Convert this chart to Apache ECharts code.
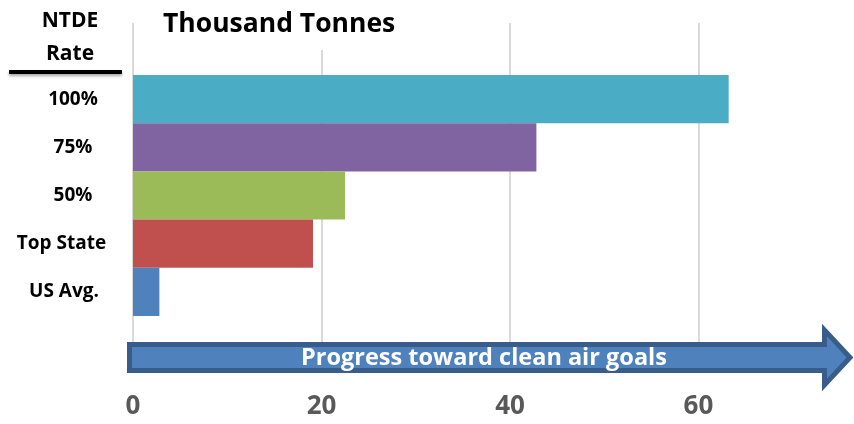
<!DOCTYPE html>
<html>
<head>
<meta charset="utf-8">
<script src="https://cdn.jsdelivr.net/npm/echarts@6/dist/echarts.min.js"></script>
<style>
  html, body { margin: 0; padding: 0; background: #fff; }
  #chart { width: 854px; height: 424px; }
</style>
</head>
<body>
<div id="chart"></div>
<script>
// NTDE rate scenarios, thousand tonnes
const categories = ['100%', '75%', '50%', 'Top State', 'US Avg.'];
const values = [63.2, 42.8, 22.5, 19.1, 2.8];
const barColors = ['#4BACC6', '#8064A2', '#9BBB59', '#C0504D', '#4F81BD'];
const axisMin = 0;
const axisMax = 76.5;
const tickStep = 20;

const FONT = '"Open Sans", "DejaVu Sans", sans-serif';

// horizontal shift for labels whose text box sits left of the common column
const labelShift = { 'Top State': 23, 'US Avg.': 18 };

const chart = echarts.init(document.getElementById('chart'), null, { renderer: 'canvas' });

const plotLeft = 133;
const plotWidth = 721;

const option = {
  animation: false,
  backgroundColor: '#fff',
  title: [
    {
      text: 'Thousand Tonnes',
      left: 157,
      top: 0,
      padding: [11, 6, 12, 6],
      backgroundColor: '#fff',
      textStyle: { fontFamily: FONT, fontWeight: 'bold', fontSize: 26.5, color: '#000' },
      z: 10
    },
    {
      text: 'NTDE\nRate',
      left: 65,
      textAlign: 'center',
      top: 0,
      textStyle: { fontFamily: FONT, fontWeight: 'bold', fontSize: 21, lineHeight: 33, color: '#000' }
    }
  ],
  grid: [
    // frame for the value gridlines and tick labels
    { left: plotLeft, top: 23, width: plotWidth, height: 319 },
    // band holding the bars
    { left: plotLeft, top: 75, width: plotWidth, height: 241 }
  ],
  xAxis: [
    {
      gridIndex: 0,
      type: 'value',
      min: axisMin,
      max: axisMax,
      interval: tickStep,
      axisLine: { show: false },
      axisTick: { show: false },
      splitLine: { show: true, showMaxLine: false, lineStyle: { color: '#d9d9d9', width: 2 } },
      axisLabel: {
        margin: 52,
        showMaxLabel: false,
        fontFamily: FONT,
        fontWeight: 'bold',
        fontSize: 26,
        color: '#595959'
      }
    },
    {
      gridIndex: 1,
      type: 'value',
      min: axisMin,
      max: axisMax,
      interval: tickStep,
      show: false
    }
  ],
  yAxis: [
    { gridIndex: 0, type: 'value', show: false },
    {
      gridIndex: 1,
      type: 'category',
      inverse: true,
      data: categories,
      axisLine: { show: false },
      axisTick: { show: false },
      splitLine: { show: false },
      axisLabel: {
        margin: 60,
        align: 'center',
        formatter: function (v) {
          return labelShift[v] ? '{s' + (v === 'Top State' ? 'a' : 'b') + '|' + v + '}' : v;
        },
        fontFamily: FONT,
        fontWeight: 'bold',
        fontSize: 19,
        color: '#000',
        rich: {
          sa: { fontFamily: FONT, fontWeight: 'bold', fontSize: 19, color: '#000', padding: [0, labelShift['Top State'], 0, 0] },
          sb: { fontFamily: FONT, fontWeight: 'bold', fontSize: 19, color: '#000', padding: [0, labelShift['US Avg.'], 0, 0] }
        }
      }
    }
  ],
  series: [
    {
      type: 'bar',
      xAxisIndex: 1,
      yAxisIndex: 1,
      barCategoryGap: '0%',
      data: values.map((v, i) => ({ value: v, itemStyle: { color: barColors[i] } }))
    }
  ],
  graphic: [
    // rule under the row-header caption
    {
      type: 'rect',
      shape: { x: 9, y: 70, width: 113, height: 4 },
      style: { fill: '#000', shadowBlur: 3, shadowOffsetY: 2, shadowColor: 'rgba(0,0,0,0.35)' },
      z: 10
    },
    // progress arrow under the plot
    {
      type: 'polygon',
      shape: {
        points: [[129.5, 344.5], [824.5, 344.5], [824.5, 330], [850, 357.5], [824.5, 385], [824.5, 370.5], [129.5, 370.5]]
      },
      style: { fill: '#4F81BD', stroke: '#385D8A', lineWidth: 5, lineJoin: 'miter' },
      z: 10
    },
    {
      type: 'text',
      x: 484,
      y: 358,
      style: {
        text: 'Progress toward clean air goals',
        fill: '#fff',
        font: 'bold 23.5px ' + FONT,
        textAlign: 'center',
        textVerticalAlign: 'middle'
      },
      z: 11
    }
  ]
};

chart.setOption(option);
</script>
</body>
</html>
